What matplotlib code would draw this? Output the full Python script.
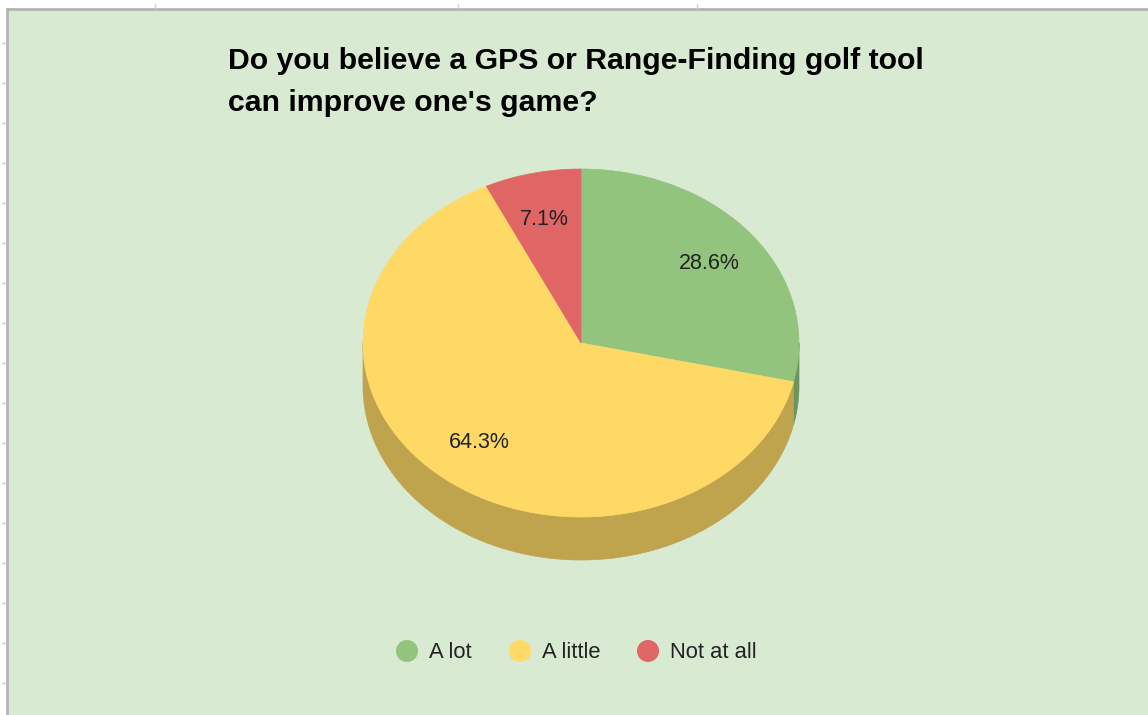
import numpy as np
import matplotlib
matplotlib.use("Agg")
import matplotlib.pyplot as plt
from matplotlib.patches import Polygon, Rectangle, Circle

# ---- data ----
categories = ["A lot", "A little", "Not at all"]
values = [4, 9, 1]
colors = ["#93c47d", "#ffd966", "#e06666"]
title = "Do you believe a GPS or Range-Finding golf tool\ncan improve one's game?"

# ---- layout ----
W, H = 1148, 715
fig = plt.figure(figsize=(W / 100, H / 100), dpi=100)
fig.patch.set_facecolor("white")
ax = fig.add_axes([0, 0, 1, 1])
ax.set_xlim(0, W)
ax.set_ylim(H, 0)
ax.axis("off")

# chart background with spreadsheet-like border
ax.add_patch(Rectangle((7, 9), W - 7, H - 9, facecolor="#d9ead3", edgecolor="none", zorder=0))
ax.plot([7, 7], [9, H], color="#b4b4b4", lw=2, zorder=1)
ax.plot([7, W], [9, 9], color="#b4b4b4", lw=2, zorder=1)
for yy in range(43, H, 40):
    ax.plot([2, 6], [yy, yy], color="#d0d0d0", lw=1, zorder=1)
for xx in [155, 458, 697]:
    ax.plot([xx, xx], [4, 8], color="#d0d0d0", lw=1, zorder=1)

cx, cy, rx, ry, depth = 581, 343, 218, 174, 43

def pt(theta_deg, dy=0.0):
    t = np.radians(theta_deg)
    return cx + rx * np.sin(t), cy - ry * np.cos(t) + dy

def darker(c, f=0.75):
    r, g, b = matplotlib.colors.to_rgb(c)
    return (r * f, g * f, b * f)

total = float(sum(values))
fracs = [v / total for v in values]
starts = np.concatenate([[0], np.cumsum(fracs)[:-1]]) * 360
ends = np.cumsum(fracs) * 360

# sides (front half: 90..270 deg)
for s, e, c in zip(starts, ends, colors):
    a, b = max(s, 90), min(e, 270)
    if b <= a:
        continue
    th = np.linspace(a, b, 200)
    top = [pt(t) for t in th]
    bot = [pt(t, depth) for t in th[::-1]]
    ax.add_patch(Polygon(top + bot, closed=True, facecolor=darker(c), edgecolor=darker(c), lw=0.5, zorder=2))

# top faces
for s, e, c in zip(starts, ends, colors):
    th = np.linspace(s, e, 300)
    poly = [(cx, cy)] + [pt(t) for t in th]
    ax.add_patch(Polygon(poly, closed=True, facecolor=c, edgecolor=c, lw=0.5, zorder=3))

# percentage labels
for s, e, f in zip(starts, ends, fracs):
    m = (s + e) / 2
    x, y = cx + 0.75 * rx * np.sin(np.radians(m)), cy - 0.73 * ry * np.cos(np.radians(m))
    ax.text(x, y, f"{f * 100:.1f}%", ha="center", va="center", fontsize=15.5,
            family="Liberation Sans", color="#222222", zorder=4)

# title
ax.text(228, 82, title, ha="left", va="center", fontsize=21.8, fontweight="bold",
        family="Liberation Sans", color="#000000", linespacing=1.62, zorder=4)

# legend
leg_x = [407, 520, 648]
for lx, lab, c in zip(leg_x, categories, colors):
    ax.add_patch(Circle((lx, 651), 11, facecolor=c, edgecolor="none", zorder=4))
    ax.text(lx + 22, 652, lab, ha="left", va="center", fontsize=15.8,
            family="Liberation Sans", color="#222222", zorder=4)

fig.savefig("out.png", dpi=100, facecolor=fig.get_facecolor())
